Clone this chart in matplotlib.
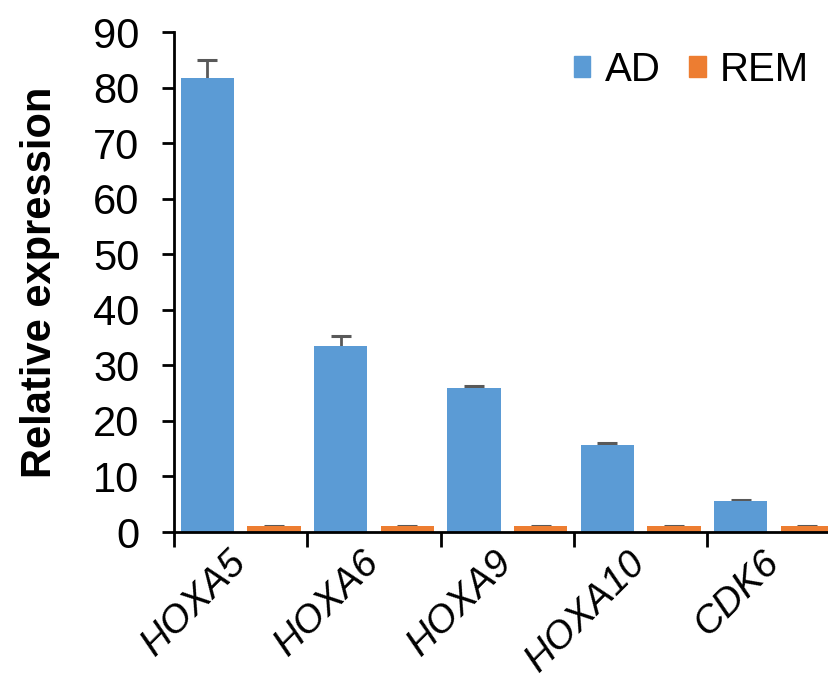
import numpy as np
import matplotlib
matplotlib.use("Agg")
from matplotlib import pyplot as plt
from matplotlib.patches import Patch

# data
genes = ["HOXA5", "HOXA6", "HOXA9", "HOXA10", "CDK6"]
ad_values = [81.8, 33.5, 25.9, 15.6, 5.5]
ad_errors = [3.1, 1.8, 0.4, 0.4, 0.3]
rem_values = [1.0, 1.0, 1.0, 1.0, 1.0]
rem_errors = [0.1, 0.1, 0.1, 0.1, 0.1]

ad_color = "#5B9BD5"
rem_color = "#ED7D31"
err_color = "#595959"

plt.rcParams["font.family"] = ["Liberation Sans", "DejaVu Sans"]

fig = plt.figure(figsize=(8.29, 6.88), dpi=100)
# right edge of the axes runs past the figure, like the cropped original
ax = fig.add_axes([0.21, 0.2267, 0.804, 0.7267])

x = np.arange(len(genes))
width = 0.4
offset = 0.25

for pos, vals, errs, col in [(x - offset, ad_values, ad_errors, ad_color),
                             (x + offset, rem_values, rem_errors, rem_color)]:
    ax.bar(pos, vals, width, color=col, zorder=2)
    eb = ax.errorbar(pos, vals, yerr=[np.zeros(len(vals)), errs], fmt="none",
                     ecolor=err_color, elinewidth=2, capsize=7, capthick=2.2, zorder=1)
    # only the upper cap, like the original
    eb[1][0].set_visible(False)

ax.set_xlim(-0.5, len(genes) - 0.5)
ax.set_ylim(0, 90)
ax.set_yticks(np.arange(0, 91, 10))
ax.tick_params(axis="y", labelsize=30, length=9, width=2, direction="out", pad=16)

# category labels between boundary ticks
ax.set_xticks(x)
ax.set_xticklabels(genes, fontsize=28, style="italic", rotation=45,
                   ha="right", va="center", rotation_mode="anchor")
ax.tick_params(axis="x", which="major", length=0, pad=18)
ax.set_xticks(np.arange(-0.5, len(genes)), minor=True)
ax.tick_params(axis="x", which="minor", length=11, width=2, direction="out")

for side in ["top", "right"]:
    ax.spines[side].set_visible(False)
ax.spines["left"].set_linewidth(2)
ax.spines["bottom"].set_linewidth(2)

ax.set_ylabel("Relative expression", fontsize=30, fontweight="bold", labelpad=24)

handles = [Patch(color=ad_color, label="AD"), Patch(color=rem_color, label="REM")]
fig.legend(handles=handles, loc="upper right", bbox_to_anchor=(0.995, 0.95),
           ncol=2, frameon=False, fontsize=29, handlelength=0.42, handleheight=0.42,
           handletextpad=0.35, columnspacing=0.7, borderaxespad=0)

plt.savefig("out.png", dpi=100)
plt.close()
